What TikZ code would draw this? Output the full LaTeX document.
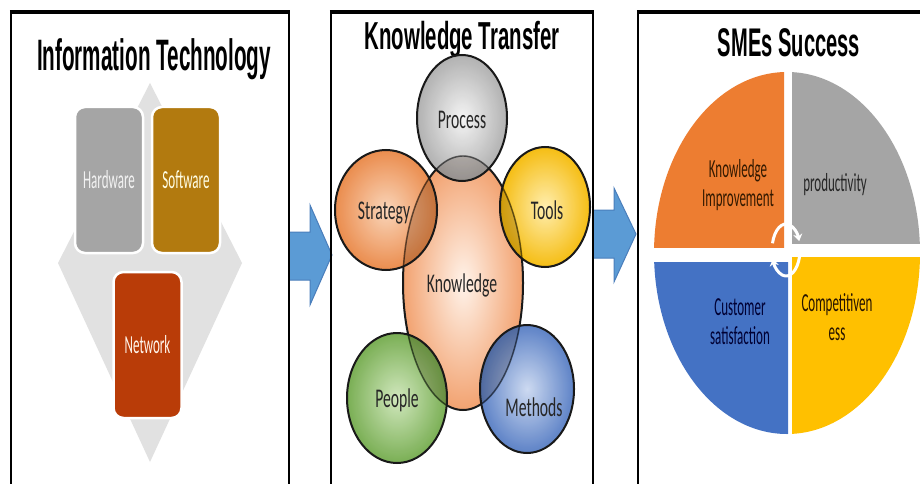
\documentclass[tikz,border=0pt]{standalone}
\usepackage{fontspec}
\setmainfont{Liberation Sans}
\newfontfamily\lab[FakeStretch=0.5]{Carlito}
\newfontfamily\labb[FakeStretch=0.58]{Carlito}
\usetikzlibrary{arrows.meta}
\definecolor{diamondgray}{HTML}{E1E1E1}
\definecolor{hwgray}{HTML}{A5A5A5}
\definecolor{swgold}{HTML}{B27A0F}
\definecolor{netrust}{HTML}{B93C08}
\definecolor{arrowblue}{HTML}{5B9BD5}
\definecolor{arrowedge}{HTML}{4A7EBB}
\definecolor{qorange}{HTML}{ED7D31}
\definecolor{qgray}{HTML}{A5A5A5}
\definecolor{qblue}{HTML}{4472C4}
\definecolor{qyellow}{HTML}{FFC000}
\definecolor{kin}{HTML}{FFF3EA}
\definecolor{kout}{HTML}{F2A270}
\definecolor{pin}{HTML}{F4F4F4}
\definecolor{pout}{HTML}{ABABAB}
\definecolor{sin}{HTML}{FAD2B4}
\definecolor{sout}{HTML}{E9833F}
\definecolor{tin}{HTML}{FFEDA8}
\definecolor{tout}{HTML}{F5B800}
\definecolor{gin}{HTML}{CDE6B8}
\definecolor{gout}{HTML}{6FA846}
\definecolor{bin}{HTML}{C9D7F0}
\definecolor{bout}{HTML}{5078C2}
\begin{document}
\begin{tikzpicture}[x=1pt,y=-1pt,
  title/.style={inner sep=0pt, anchor=base, text=black},
  itbox/.style={draw=white, line width=2.5pt, rounded corners=10pt,
    minimum width=68pt, minimum height=146pt, inner sep=0pt,
    font=\lab\fontsize{26}{30}\selectfont},
  lbl/.style={inner sep=0pt, align=center, text=black!85,
    font=\lab\fontsize{26}{29}\selectfont},
  lblb/.style={inner sep=0pt, align=center, text=black!85,
    font=\labb\fontsize{27}{30}\selectfont},
  panel/.style={line width=2.5pt, draw=black},
  paneltop/.style={line width=4.5pt, draw=black},
  blockarrow/.style={fill=arrowblue, draw=arrowedge, line width=1pt},
  sphereline/.style={draw=black!90, line width=2pt},
  lens/.style={fill=black, opacity=.15},
  lensline/.style={draw=black, opacity=.55, line width=1.4pt},
  cyc/.style={draw=white, line width=3pt, -{Stealth[length=7pt,width=9pt]}}
]
\useasboundingbox (0,0) rectangle (920,484);
\fill[white] (0,0) rectangle (920,484);

% ---------- block arrows between panels
\filldraw[blockarrow] (289,232) -- (310,232) -- (310,205) -- (332,255)
  -- (310,305) -- (310,280) -- (289,280) -- cycle;
\filldraw[blockarrow] (593,210) -- (614,210) -- (614,188) -- (636,234)
  -- (614,282) -- (614,258) -- (593,258) -- cycle;

% ---------- panel 1 : Information Technology
\fill[diamondgray] (150,83) -- (242,263) -- (150,462) -- (58,263) -- cycle;
\node[title] (ittitle) at (154,71)
  {\scalebox{0.47}[1]{\fontsize{44}{50}\selectfont\bfseries Information Technology}};
\node[itbox, fill=hwgray, text=white!95!black] (hardware) at (109,180) {Hardware};
\node[itbox, fill=swgold, text=white!90!yellow] (software) at (186,180) {Software};
\node[itbox, fill=netrust, text=white!92!orange] (network) at (147.5,345) {Network};

% ---------- panel 2 : Knowledge Transfer
\node[title] (kttitle) at (462,50)
  {\scalebox{0.523}[1]{\fontsize{39}{45}\selectfont\bfseries Knowledge Transfer}};
\shade[inner color=kin, outer color=kout] (463,283) ellipse (60 and 127);
\draw[sphereline] (463,283) ellipse (60 and 127);
% process
\shade[inner color=pin, outer color=pout, fill opacity=.92] (462,118) ellipse (45 and 63);
\begin{scope}\clip (462,118) ellipse (45 and 63);
  \fill[lens] (463,283) ellipse (60 and 127);
  \draw[lensline] (463,283) ellipse (60 and 127);
\end{scope}
\draw[sphereline] (462,118) ellipse (45 and 63);
% strategy
\shade[inner color=sin, outer color=sout, fill opacity=.92] (386,210) ellipse (51 and 60);
\begin{scope}\clip (386,210) ellipse (51 and 60);
  \fill[lens] (463,283) ellipse (60 and 127);
  \draw[lensline] (463,283) ellipse (60 and 127);
\end{scope}
\draw[sphereline] (386,210) ellipse (51 and 60);
% tools
\shade[inner color=tin, outer color=tout, fill opacity=.92] (545,207) ellipse (45 and 60);
\begin{scope}\clip (545,207) ellipse (45 and 60);
  \fill[lens] (463,283) ellipse (60 and 127);
  \draw[lensline] (463,283) ellipse (60 and 127);
\end{scope}
\draw[sphereline] (545,207) ellipse (45 and 60);
% people
\shade[inner color=gin, outer color=gout, fill opacity=.92] (397,398) ellipse (50 and 65);
\begin{scope}\clip (397,398) ellipse (50 and 65);
  \fill[lens] (463,283) ellipse (60 and 127);
  \draw[lensline] (463,283) ellipse (60 and 127);
\end{scope}
\draw[sphereline] (397,398) ellipse (50 and 65);
% methods
\shade[inner color=bin, outer color=bout, fill opacity=.92] (527,389) ellipse (47 and 64);
\begin{scope}\clip (527,389) ellipse (47 and 64);
  \fill[lens] (463,283) ellipse (60 and 127);
  \draw[lensline] (463,283) ellipse (60 and 127);
\end{scope}
\draw[sphereline] (527,389) ellipse (47 and 64);

\node[lblb] (process) at (462,120) {Process};
\node[lblb] (strategy) at (384,213) {Strategy};
\node[lblb] (tools) at (547,210) {Tools};
\node[lblb] (knowledge) at (462,285) {Knowledge};
\node[lblb] (people) at (397,400) {People};
\node[lblb] (methods) at (534,407) {Methods};

% ---------- panel 3 : SMEs Success
\node[title] (smetitle) at (789,57)
  {\scalebox{0.503}[1]{\fontsize{40}{46}\selectfont\bfseries SMEs Success}};
\begin{scope}\clip (640,60) rectangle (784,247);
  \fill[qorange] (787,253) ellipse (133 and 181);\end{scope}
\begin{scope}\clip (792,60) rectangle (920,243);
  \fill[qgray] (787,253) ellipse (133 and 181);\end{scope}
\begin{scope}\clip (640,262) rectangle (788,440);
  \fill[qblue] (787,253) ellipse (133 and 181);\end{scope}
\begin{scope}\clip (792,257) rectangle (920,440);
  \fill[qyellow] (787,253) ellipse (133 and 181);\end{scope}
\draw[cyc] ([shift={(195:14 and 26)}]786,250) arc[start angle=195, end angle=340, x radius=14, y radius=26];
\draw[cyc] ([shift={(15:14 and 26)}]786,250) arc[start angle=15, end angle=160, x radius=14, y radius=26];
\node[lbl, text=black!80!orange] (kimp) at (738,185) {Knowledge\\Improvement};
\node[lbl, text=black!85] (prod) at (835,185) {productivity};
\node[lbl, text=black!80!blue] (cust) at (740,322) {Customer\\satisfaction};
\node[lbl, text=black!85!orange] (comp) at (837,317) {Competitiven\\ess};

% ---------- panel frames
\draw[panel] (11,484) -- (11,12) -- (289,12) -- (289,484);
\draw[paneltop] (9.75,12) -- (290.25,12);
\draw[panel] (331,484) -- (331,12) -- (593,12) -- (593,484);
\draw[paneltop] (329.75,12) -- (594.25,12);
\draw[panel] (638,484) -- (638,12) -- (920,12);
\draw[paneltop] (636.75,12) -- (920,12);
\end{tikzpicture}
\end{document}
